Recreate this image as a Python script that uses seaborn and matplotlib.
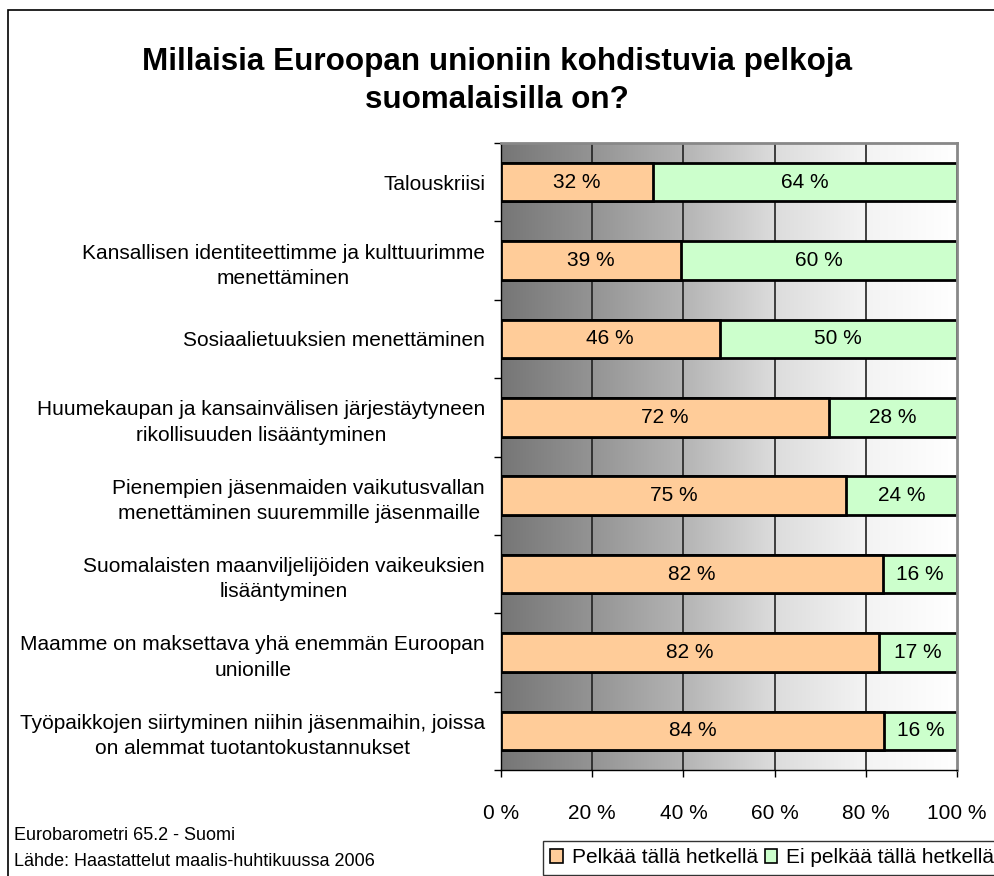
import numpy as np
import pandas as pd
import seaborn as sns
import matplotlib.pyplot as plt
from matplotlib.patches import Patch, Rectangle
from matplotlib.colors import LinearSegmentedColormap

# Data
categories = [
    "Talouskriisi",
    "Kansallisen identiteettimme ja kulttuurimme\nmenettäminen",
    "Sosiaalietuuksien menettäminen",
    "Huumekaupan ja kansainvälisen järjestäytyneen\nrikollisuuden lisääntyminen",
    "Pienempien jäsenmaiden vaikutusvallan\nmenettäminen suuremmille jäsenmaille",
    "Suomalaisten maanviljelijöiden vaikeuksien\nlisääntyminen",
    "Maamme on maksettava yhä enemmän Euroopan\nunionille",
    "Työpaikkojen siirtyminen niihin jäsenmaihin, joissa\non alemmat tuotantokustannukset",
]
pelkaa = [32, 39, 46, 72, 75, 82, 82, 84]
ei_pelkaa = [64, 60, 50, 28, 24, 16, 17, 16]
series_names = ["Pelkää tällä hetkellä", "Ei pelkää tällä hetkellä"]
xticks = [0, 0.2, 0.4, 0.6, 0.8, 1.0]
xticklabels = ["0 %", "20 %", "40 %", "60 %", "80 %", "100 %"]

df = pd.DataFrame({"cat": categories, "p": pelkaa, "e": ei_pelkaa})
df["total"] = df["p"] + df["e"]
df["p_share"] = df["p"] / df["total"]
df["full"] = df["total"] / df["total"]

sns.set_theme(style="white")
plt.rcParams["font.family"] = ["Liberation Sans", "DejaVu Sans"]
plt.rcParams["text.color"] = "black"
plt.rcParams["xtick.color"] = "black"
plt.rcParams["ytick.color"] = "black"

peach = "#FFCC99"
green = "#CCFFCC"
fs = 15

fig = plt.figure(figsize=(9.94, 8.76), dpi=100)
ax = fig.add_axes([501 / 994, 1 - 770 / 876, 456 / 994, 627 / 876])

# gradient background (dark grey -> white)
grad = LinearSegmentedColormap.from_list(
    "bg", [(0.0, "#767676"), (0.2, "#949494"), (0.4, "#b4b4b4"),
           (0.6, "#dcdcdc"), (0.8, "#f3f3f3"), (1.0, "#ffffff")])
ax.imshow(np.linspace(0, 1, 256).reshape(1, -1), cmap=grad, aspect="auto",
          extent=[0, 1, 0, 1], transform=ax.transAxes, zorder=0)
for gx in xticks[1:-1]:
    ax.axvline(gx, color="#222222", lw=1.2, zorder=1)

# stacked bars: full length in green, first segment in peach on top
sns.barplot(data=df, y="cat", x="full", color=green, orient="h", width=0.49,
            edgecolor="black", linewidth=2, saturation=1, ax=ax, zorder=2)
sns.barplot(data=df, y="cat", x="p_share", color=peach, orient="h", width=0.49,
            edgecolor="black", linewidth=2, saturation=1, ax=ax, zorder=3)

for i, row in df.iterrows():
    ax.text(row["p_share"] / 2, i, f"{row['p']} %", ha="center", va="center",
            fontsize=fs, zorder=4)
    ax.text(row["p_share"] + (1 - row["p_share"]) / 2, i, f"{row['e']} %",
            ha="center", va="center", fontsize=fs, zorder=4)

ax.set_xlim(0, 1)
ax.set_ylim(len(categories) - 0.5, -0.5)
ax.set_xlabel("")
ax.set_ylabel("")
ax.set_xticks(xticks)
ax.set_xticklabels(xticklabels, fontsize=fs)
ax.set_yticks(range(len(categories)))
ax.set_yticklabels(categories, fontsize=fs, ha="right", multialignment="center",
                   linespacing=1.42)
ax.set_yticks(np.arange(-0.5, len(categories), 1), minor=True)
ax.tick_params(axis="y", which="major", length=0, pad=11.5)
ax.tick_params(axis="y", which="minor", length=5, width=1, color="black", left=True)
ax.tick_params(axis="x", length=5, width=1, color="black", bottom=True, pad=19.5)
for s in ["left", "bottom"]:
    ax.spines[s].set_color("black")
    ax.spines[s].set_linewidth(1)
for s in ["top", "right"]:
    ax.spines[s].set_color("#888888")
    ax.spines[s].set_linewidth(2)

fig.text(0.5, 1 - 81 / 876,
         "Millaisia Euroopan unioniin kohdistuvia pelkoja\nsuomalaisilla on?",
         ha="center", va="center", fontsize=22.6, fontweight="bold",
         linespacing=1.38)

fig.text(14 / 994, 1 - 836 / 876, "Eurobarometri 65.2 - Suomi", fontsize=13, va="center")
fig.text(14 / 994, 1 - 861 / 876, "Lähde: Haastattelut maalis-huhtikuussa 2006",
         fontsize=13, va="center")

handles = [Patch(facecolor=peach, edgecolor="black", lw=1.2),
           Patch(facecolor=green, edgecolor="black", lw=1.2)]
leg = fig.legend(handles, series_names, ncol=2, loc="upper left",
                 bbox_to_anchor=(543 / 994, 1 - 841 / 876), fontsize=fs,
                 frameon=True, fancybox=False, edgecolor="black",
                 handlelength=0.6, handleheight=0.6, handletextpad=0.45,
                 columnspacing=0.3, borderpad=0.35, borderaxespad=0)
leg.get_frame().set_linewidth(1)

fig.patches.append(Rectangle((8 / 994, -0.1), 1.2, 1 - 10 / 876 + 0.1,
                             transform=fig.transFigure, fill=False,
                             edgecolor="black", lw=1.2))

fig.savefig("out.png", dpi=100)
